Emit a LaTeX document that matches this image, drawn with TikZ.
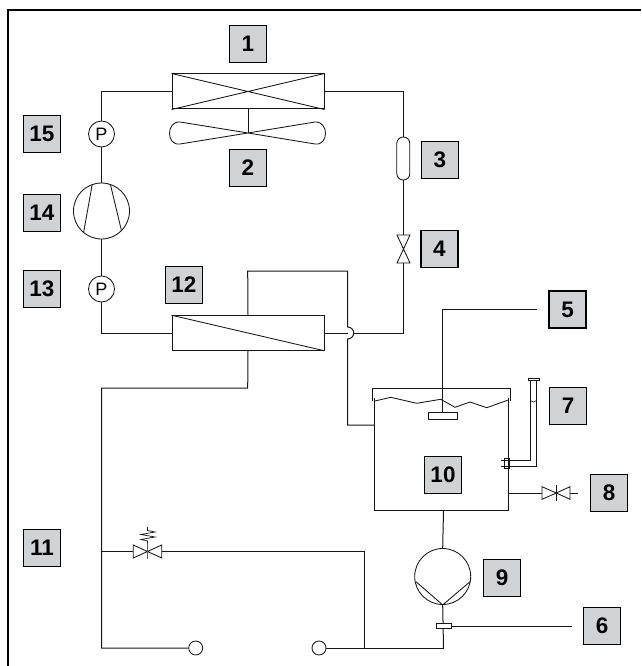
\documentclass[tikz,border=0pt]{standalone}
\usepackage{fontspec}
\setmainfont{Liberation Sans}
\usetikzlibrary{calc}
\definecolor{tag}{HTML}{D1D2D4}
\definecolor{ink}{HTML}{161616}
\tikzset{
  tagbox/.style={draw=black,fill=tag,line width=1.5pt,minimum size=37pt,inner sep=0pt,font=\fontsize{22.5}{22.5}\selectfont\bfseries,text=black},
  pipe/.style={draw=ink,line width=1pt,line join=miter},
  sym/.style={draw=ink,line width=0.85pt},
  gauge/.style={circle,draw=ink,fill=white,line width=0.85pt,minimum size=26pt,inner sep=0pt,font=\fontsize{18}{18}\selectfont},
  roundel/.style={circle,draw=ink,fill=white,line width=0.85pt,minimum size=56pt,inner sep=0pt},
  port/.style={circle,draw=ink,fill=white,line width=0.85pt,minimum size=14pt,inner sep=0pt},
  hx/.style={rectangle,draw=ink,fill=white,line width=1pt,minimum width=152pt,inner sep=0pt},
}
\begin{document}
\begin{tikzpicture}[x=1pt,y=-1pt]
\useasboundingbox (0,0) rectangle (641,666);
% frame
\draw[line width=2pt,draw=black] (8,666) -- (8,10) -- (641,10);

% condenser
\node[hx,minimum height=35pt] (cond) at (248,91.5) {};
\draw[sym] (cond.north west) -- (cond.south east) (cond.south west) -- (cond.north east);
% fan
\coordinate (fanc) at (248,133);
\draw[pipe] (cond.south) -- (fanc);
\draw[sym] (fanc) -- (180,144) .. controls (166,146) and (166,121) .. (180,122) -- (fanc)
           -- (315,144) .. controls (329,146) and (329,121) .. (315,122) -- (fanc);

% left column
\node[gauge] (phigh) at (101.5,134) {P};
\node[roundel] (comp) at (101.5,211) {};
\node[gauge] (plow) at (101.5,289) {P};
\draw[sym] (92.3,184) -- (83.7,232) (110.3,184) -- (121.3,230);

% suction heat exchanger
\node[hx,minimum height=34.6pt] (shx) at (248,333) {};
\draw[sym] (shx.north west) -- (shx.south east);

% receiver and expansion valve
\node[rectangle,rounded corners=6.4pt,draw=ink,fill=white,line width=0.85pt,minimum width=13pt,minimum height=43pt,inner sep=0pt] (recv) at (403.3,158.5) {};
\coordinate (evc) at (403.3,249);
\draw[sym] (397,235) -- (410,235) -- (397,263) -- (410,263) -- cycle;

% refrigerant circuit
\draw[pipe] (phigh.north) -- (101.5,91.5) -- (cond.west);
\draw[pipe] (phigh.south) -- (comp.north);
\draw[pipe] (comp.south) -- (plow.north);
\draw[pipe] (plow.south) -- (101.5,333) -- (shx.west);
\draw[pipe] (cond.east) -- (403.3,91.5) -- (recv.north);
\draw[pipe] (recv.south) -- (403.3,235);
\draw[pipe] (403.3,263) -- (403.3,333) -- (354,333);
\draw[pipe] (shx.east) -- (347.7,333);

% tank
\coordinate (tl) at (374,510);
\coordinate (tr) at (508.7,510);
\draw[pipe] (374,398) -- (tl) -- (tr) -- (508.7,398);
\draw[pipe] (372.3,401) -- (372.3,388.7) -- (510.7,388.7) -- (510.7,401);
\draw[sym] (375,401) -- (390.7,397.3) -- (416.7,403.3) -- (440.7,399.3) -- (455,407.3) -- (470,402) -- (486.7,407.7) -- (508.3,400);

% water circuit from exchanger
\draw[pipe] (shx.north) -- (247.7,271) -- (347.7,271) -- (347.7,327)
   arc[start angle=90,end angle=-90,radius=6pt] -- (347.7,425) -- (374,425);

% float and leader 5
\node[tagbox] (t5) at (567.5,309.5) {5};
\node[rectangle,draw=ink,fill=white,line width=0.85pt,minimum width=29.5pt,minimum height=7.6pt,inner sep=0pt] (float) at (443,416) {};
\draw[pipe,line width=0.85pt] (537,309.5) -- (442.7,309.5) -- (float.north -| 442.7,0);

% level gauge 7
\draw[sym] (530,380) -- (530,460.7) -- (500.7,460.7);
\draw[sym] (536.7,380) -- (536.7,466.3) -- (500.7,466.3);
\draw[sym,fill=white] (528,378) rectangle (539,380.4);
\draw[sym,line width=0.6pt] (530,400.5) .. controls (532,402.5) and (534.7,402.5) .. (536.7,400.5);
\draw[sym] (504.7,458.7) rectangle (509,468.3);

% drain valve 8
\coordinate (v8) at (556.3,493);
\draw[pipe] (508.7,493) -- (542,493);
\draw[sym] (v8) -- (542,486.7) -- (542,499.3) -- cycle;
\draw[sym] (v8) -- (570,486.7) -- (570,499.3) -- cycle;
\draw[line width=1.2pt,draw=ink] (556.3,485) -- (556.3,501);
\draw[pipe] (570,493) -- (577.7,493);

% pump 9
\node[roundel] (pump) at (442.7,576.5) {};
\draw[sym] (416,581.7) -- (pump.south) -- (470,581.7);
\draw[pipe] (443.5,510) -- (pump.north);
\coordinate (bjoin) at (443.5,648);
\draw[pipe] (pump.south) -- (bjoin);
\node[rectangle,draw=ink,fill=white,line width=0.85pt,minimum width=14.6pt,minimum height=5.7pt,inner sep=0pt] (sens) at (444,626) {};
\node[tagbox] (t6) at (602,626) {6};
\draw[pipe,line width=0.85pt] (sens.east) -- (571.7,626);

% bottom circuit
\node[port] (pa) at (195.7,648) {};
\node[port] (pb) at (319,648) {};
\draw[pipe] (shx.south) -- (247.7,388) -- (101.5,388) -- (101.5,648) -- (pa.west);
\draw[pipe] (pb.east) -- (bjoin);

% relief valve
\coordinate (v11) at (147.5,551.5);
\coordinate (vjoin) at (364.3,551.5);
\draw[pipe] (101.5,551.5) -- (133.3,551.5);
\draw[pipe] (161.7,551.5) -- (vjoin) -- (364.3,648);
\draw[sym] (v11) -- (133.3,545) -- (133.3,558) -- cycle;
\draw[sym] (v11) -- (161.7,545) -- (161.7,558) -- cycle;
\draw[line width=1pt,draw=ink!70] (147.5,559) -- (147.5,543);
\draw[sym,line width=0.7pt] (147.5,543) -- (147.5,541) -- (141,539.5) -- (155,537) -- (141,534.5) -- (155,532) -- (147.5,530.5) -- (147.5,527);

% tags
\node[tagbox] (t1) at (248,44) {1};
\node[tagbox] (t2) at (248,168) {2};
\node[tagbox] (t3) at (440,160) {3};
\node[tagbox] (t4) at (439.5,249) {4};
\node[tagbox] (t7) at (568,406) {7};
\node[tagbox] (t8) at (609,493) {8};
\node[tagbox] (t9) at (502,578) {9};
\node[tagbox] (t10) at (443,475) {10};
\node[tagbox] (t11) at (42,548) {11};
\node[tagbox] (t12) at (184,285) {12};
\node[tagbox] (t13) at (42,289) {13};
\node[tagbox] (t14) at (42,213) {14};
\node[tagbox] (t15) at (42,134) {15};
\end{tikzpicture}
\end{document}
